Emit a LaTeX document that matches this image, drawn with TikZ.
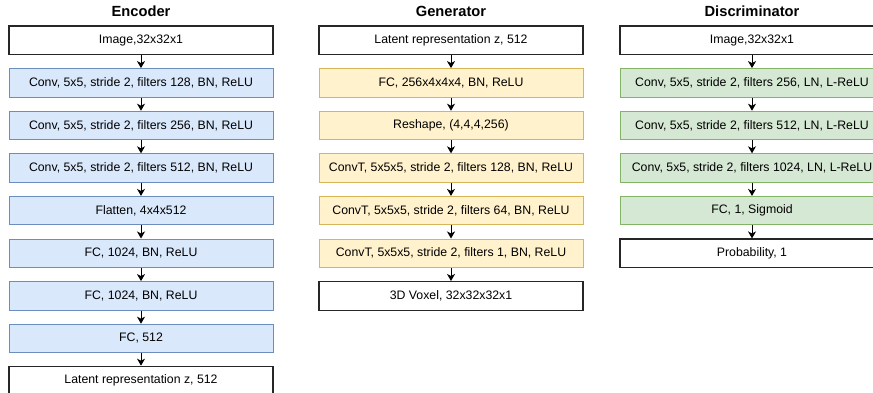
\documentclass[tikz,border=0pt]{standalone}
\usepackage{fontspec}
\setmainfont{Liberation Sans}
\usetikzlibrary{arrows.meta}
\definecolor{bluefill}{HTML}{DAE8FC}
\definecolor{bluedraw}{HTML}{6C8EBF}
\definecolor{yelfill}{HTML}{FFF2CC}
\definecolor{yeldraw}{HTML}{D6B656}
\definecolor{grnfill}{HTML}{D5E8D4}
\definecolor{grndraw}{HTML}{82B366}
\tikzset{
  layer/.style={rectangle, minimum width=264pt, minimum height=28.5pt, inner sep=0pt,
    line width=1pt, font=\fontsize{12.3}{14}\selectfont, text=black},
  plainbox/.style={layer, draw=black!85, fill=white, line width=1.2pt},
  encbox/.style={layer, draw=bluedraw, fill=bluefill},
  genbox/.style={layer, draw=yeldraw, fill=yelfill},
  disbox/.style={layer, draw=grndraw, fill=grnfill},
  title/.style={font=\fontsize{14.7}{17}\selectfont\bfseries, text=black},
  arr/.style={draw=black, line width=1pt, -{Stealth[length=7pt,width=8pt,inset=2pt]}}
}
\begin{document}
\begin{tikzpicture}[x=1pt,y=-1pt]
\clip (0,0) rectangle (873,392);
\fill[white] (0,0) rectangle (873,392);
% titles
\node[title] (tenc) at (141,11.5) {Encoder};
\node[title] (tgen) at (451,11.5) {Generator};
\node[title] (tdis) at (752,11.5) {Discriminator};
% Encoder
\node[plainbox] (e0) at (141,40.25) {Image,32x32x1};
\node[encbox] (e1) at (141,82.85) {Conv, 5x5, stride 2, filters 128, BN, ReLU};
\node[encbox] (e2) at (141,125.45) {Conv, 5x5, stride 2, filters 256, BN, ReLU};
\node[encbox] (e3) at (141,168.05) {Conv, 5x5, stride 2, filters 512, BN, ReLU};
\node[encbox] (e4) at (141,210.65) {Flatten, 4x4x512};
\node[encbox] (e5) at (141,253.25) {FC, 1024, BN, ReLU};
\node[encbox] (e6) at (141,295.85) {FC, 1024, BN, ReLU};
\node[encbox] (e7) at (141,338.45) {FC, 512};
\node[plainbox] (e8) at (141,380.5) {Latent representation z, 512};
\foreach \a/\b in {e0/e1,e1/e2,e2/e3,e3/e4,e4/e5,e5/e6,e6/e7,e7/e8}
  \draw[arr] (\a) -- (\b);
% Generator
\node[plainbox] (g0) at (451,40.25) {Latent representation z, 512};
\node[genbox] (g1) at (451,82.85) {FC, 256x4x4x4, BN, ReLU};
\node[genbox] (g2) at (451,125.45) {Reshape, (4,4,4,256)};
\node[genbox] (g3) at (451,168.05) {ConvT, 5x5x5, stride 2, filters 128, BN, ReLU};
\node[genbox] (g4) at (451,210.65) {ConvT, 5x5x5, stride 2, filters 64, BN, ReLU};
\node[genbox] (g5) at (451,253.25) {ConvT, 5x5x5, stride 2, filters 1, BN, ReLU};
\node[plainbox] (g6) at (451,295.85) {3D Voxel, 32x32x32x1};
\foreach \a/\b in {g0/g1,g1/g2,g2/g3,g3/g4,g4/g5,g5/g6}
  \draw[arr] (\a) -- (\b);
% Discriminator
\node[plainbox] (d0) at (752,40.25) {Image,32x32x1};
\node[disbox] (d1) at (752,82.85) {Conv, 5x5, stride 2, filters 256, LN, L-ReLU};
\node[disbox] (d2) at (752,125.45) {Conv, 5x5, stride 2, filters 512, LN, L-ReLU};
\node[disbox] (d3) at (752,168.05) {Conv, 5x5, stride 2, filters 1024, LN, L-ReLU};
\node[disbox] (d4) at (752,210.65) {FC, 1, Sigmoid};
\node[plainbox] (d5) at (752,253.25) {Probability, 1};
\foreach \a/\b in {d0/d1,d1/d2,d2/d3,d3/d4,d4/d5}
  \draw[arr] (\a) -- (\b);
\end{tikzpicture}
\end{document}
